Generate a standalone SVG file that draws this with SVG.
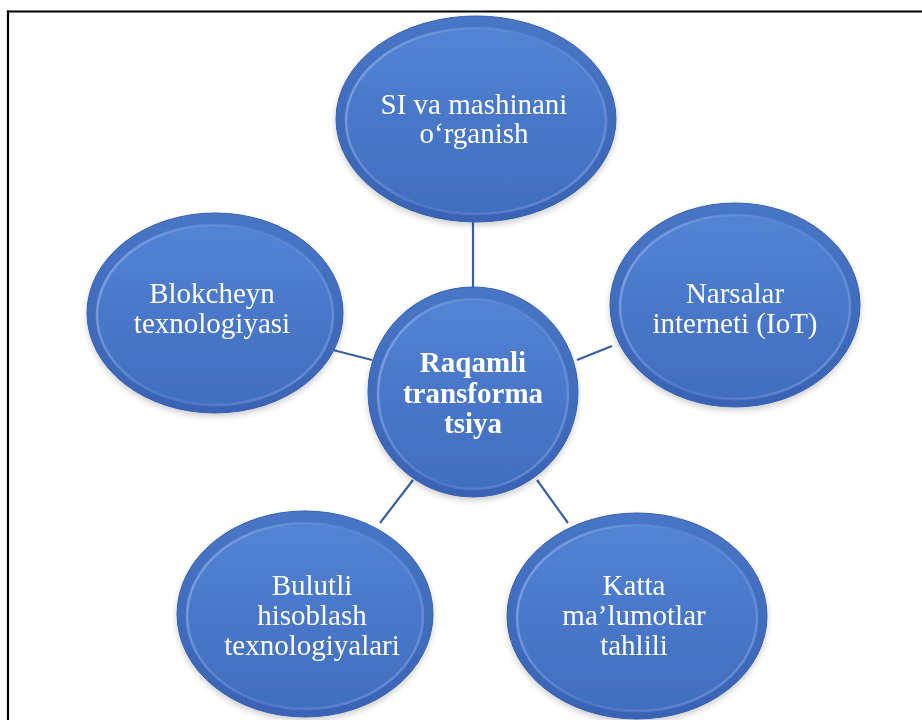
<svg xmlns="http://www.w3.org/2000/svg" width="922" height="720" viewBox="0 0 922 720">
  <defs>
    <linearGradient id="rim" x1="0" y1="0" x2="0" y2="1">
      <stop offset="0" stop-color="#4876c6"/>
      <stop offset="1" stop-color="#3a63b4"/>
    </linearGradient>
    <linearGradient id="body" x1="0" y1="0" x2="0" y2="1">
      <stop offset="0" stop-color="#5384d4"/>
      <stop offset="0.5" stop-color="#4977c9"/>
      <stop offset="1" stop-color="#426ebf"/>
    </linearGradient>
    <linearGradient id="bevel" x1="0" y1="0.3" x2="1" y2="0.7">
      <stop offset="0" stop-color="#86aae8" stop-opacity="0.8"/>
      <stop offset="0.5" stop-color="#6890d6" stop-opacity="0.35"/>
      <stop offset="1" stop-color="#7fa3e2" stop-opacity="0.6"/>
    </linearGradient>
    <filter id="soft" x="-10%" y="-10%" width="120%" height="125%">
      <feGaussianBlur in="SourceAlpha" stdDeviation="3"/>
      <feOffset dx="0" dy="3"/>
      <feComponentTransfer><feFuncA type="linear" slope="0.2"/></feComponentTransfer>
      <feMerge><feMergeNode/><feMergeNode in="SourceGraphic"/></feMerge>
    </filter>
  </defs>
  <style>
    .frame { stroke: #000; stroke-width: 2.2; fill: none; }
    .edge { stroke: #3b5fa6; stroke-width: 2.2; fill: none; }
    .outer { fill: url(#rim); stroke: #3660ae; stroke-width: 1; }
    .inner { fill: url(#body); stroke: url(#bevel); stroke-width: 2.5; }
    .lbl { font-family: "Liberation Serif", "Times New Roman", serif; font-size: 29px; fill: #ffffff; text-anchor: middle; }
    .hub { font-family: "Liberation Serif", "Times New Roman", serif; font-size: 29px; font-weight: bold; fill: #ffffff; text-anchor: middle; }
  </style>

  <rect width="922" height="720" fill="#ffffff"/>

  <!-- page frame: top and left rules -->
  <line class="frame" x1="7" y1="11.5" x2="922" y2="11.5"/>
  <line class="frame" x1="8" y1="10.5" x2="8" y2="720"/>

  <!-- connectors from the hub to each topic -->
  <g id="connectors">
    <line class="edge" x1="473" y1="220" x2="473" y2="289"/>
    <line class="edge" x1="333" y1="350" x2="372" y2="360"/>
    <line class="edge" x1="577" y1="360" x2="612" y2="346"/>
    <line class="edge" x1="413" y1="480" x2="380" y2="523"/>
    <line class="edge" x1="537" y1="480" x2="568" y2="523"/>
  </g>

  <g id="node-si" filter="url(#soft)">
    <ellipse class="outer" cx="476" cy="119" rx="140" ry="103"/>
    <ellipse class="inner" cx="476" cy="121" rx="130" ry="93"/>
    <text class="lbl" x="474" y="114">SI va mashinani</text>
    <text class="lbl" x="474" y="143">o‘rganish</text>
  </g>

  <g id="node-blokcheyn" filter="url(#soft)">
    <ellipse class="outer" cx="215" cy="313" rx="128" ry="100"/>
    <ellipse class="inner" cx="215" cy="315" rx="118" ry="90"/>
    <text class="lbl" x="212" y="303">Blokcheyn</text>
    <text class="lbl" x="212" y="333">texnologiyasi</text>
  </g>

  <g id="node-iot" filter="url(#soft)">
    <ellipse class="outer" cx="735" cy="305" rx="125" ry="102"/>
    <ellipse class="inner" cx="735" cy="307" rx="115" ry="92"/>
    <text class="lbl" x="735" y="303">Narsalar</text>
    <text class="lbl" x="735" y="333">interneti (IoT)</text>
  </g>

  <g id="node-bulut" filter="url(#soft)">
    <ellipse class="outer" cx="305" cy="614" rx="128" ry="103"/>
    <ellipse class="inner" cx="305" cy="616" rx="118" ry="93"/>
    <text class="lbl" x="312" y="595">Bulutli</text>
    <text class="lbl" x="312" y="625">hisoblash</text>
    <text class="lbl" x="312" y="655">texnologiyalari</text>
  </g>

  <g id="node-katta" filter="url(#soft)">
    <ellipse class="outer" cx="637" cy="616" rx="130" ry="103"/>
    <ellipse class="inner" cx="637" cy="618" rx="120" ry="93"/>
    <text class="lbl" x="634" y="595">Katta</text>
    <text class="lbl" x="634" y="625">ma’lumotlar</text>
    <text class="lbl" x="634" y="655">tahlili</text>
  </g>

  <g id="node-hub" filter="url(#soft)">
    <circle class="outer" cx="473" cy="392" r="105"/>
    <circle class="inner" cx="473" cy="394" r="95"/>
    <text class="hub" x="473" y="372">Raqamli</text>
    <text class="hub" x="473" y="403">transforma</text>
    <text class="hub" x="473" y="433">tsiya</text>
  </g>
</svg>
